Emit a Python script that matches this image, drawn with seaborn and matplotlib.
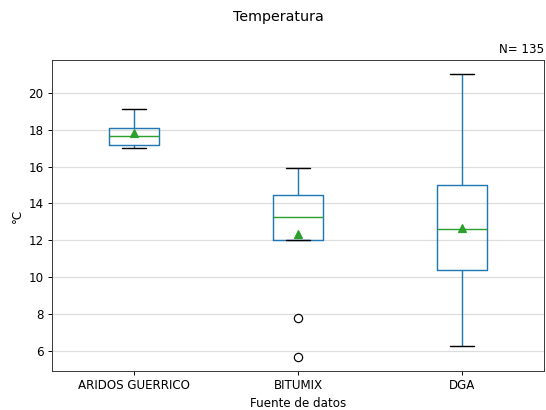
import matplotlib
matplotlib.use("Agg")
import matplotlib.pyplot as plt
import seaborn as sns

categories = ["ARIDOS GUERRICO", "BITUMIX", "DGA"]
whisker_low = [17.0, 12.0, 6.3]
q1 = [17.15, 12.0, 10.4]
median = [17.65, 13.25, 12.6]
q3 = [18.1, 14.45, 15.0]
whisker_high = [19.1, 15.9, 21.0]
means = [17.8, 12.35, 12.65]
outliers = [[], [7.8, 5.7], []]
n_total = 135

sns.set_style("ticks", rc={"axes.edgecolor": "#333333", "xtick.color": "black",
                           "ytick.color": "black", "axes.labelcolor": "black",
                           "text.color": "black",
                           "xtick.major.size": 3.5, "ytick.major.size": 3.5,
                           "xtick.major.width": 0.8, "ytick.major.width": 0.8})
plt.rcParams["font.family"] = ["DejaVu Sans"]

stats = []
for i, c in enumerate(categories):
    stats.append(dict(label=c, whislo=whisker_low[i], q1=q1[i], med=median[i],
                      q3=q3[i], whishi=whisker_high[i], mean=means[i],
                      fliers=outliers[i]))

dpi = 546 / 6.4
fig = plt.figure(figsize=(6.4, 410 / dpi), dpi=dpi)
ax = fig.add_axes([52/546, 1-371/410, (544-52)/546, (371-60)/410])
ax.bxp(stats, showmeans=True, widths=0.3,
       boxprops=dict(color="#1f77b4", linewidth=1.2),
       whiskerprops=dict(color="#1f77b4", linewidth=1.2),
       capprops=dict(color="black", linewidth=1.2),
       medianprops=dict(color="#2ca02c", linewidth=1.2),
       meanprops=dict(marker="^", markerfacecolor="#2ca02c", markeredgecolor="#2ca02c", markersize=7),
       flierprops=dict(marker="o", markerfacecolor="none", markeredgecolor="black", markersize=7))
ax.yaxis.grid(True, color="#dddddd", linewidth=1)
ax.set_axisbelow(True)
ax.set_xlabel("Fuente de datos")
ax.set_ylabel("°C")
ax.set_title(f"N= {n_total}", loc="right", fontsize=10)
fig.suptitle("Temperatura", x=278/546, y=0.975, fontsize=12)
fig.savefig("out.png", dpi=dpi)
